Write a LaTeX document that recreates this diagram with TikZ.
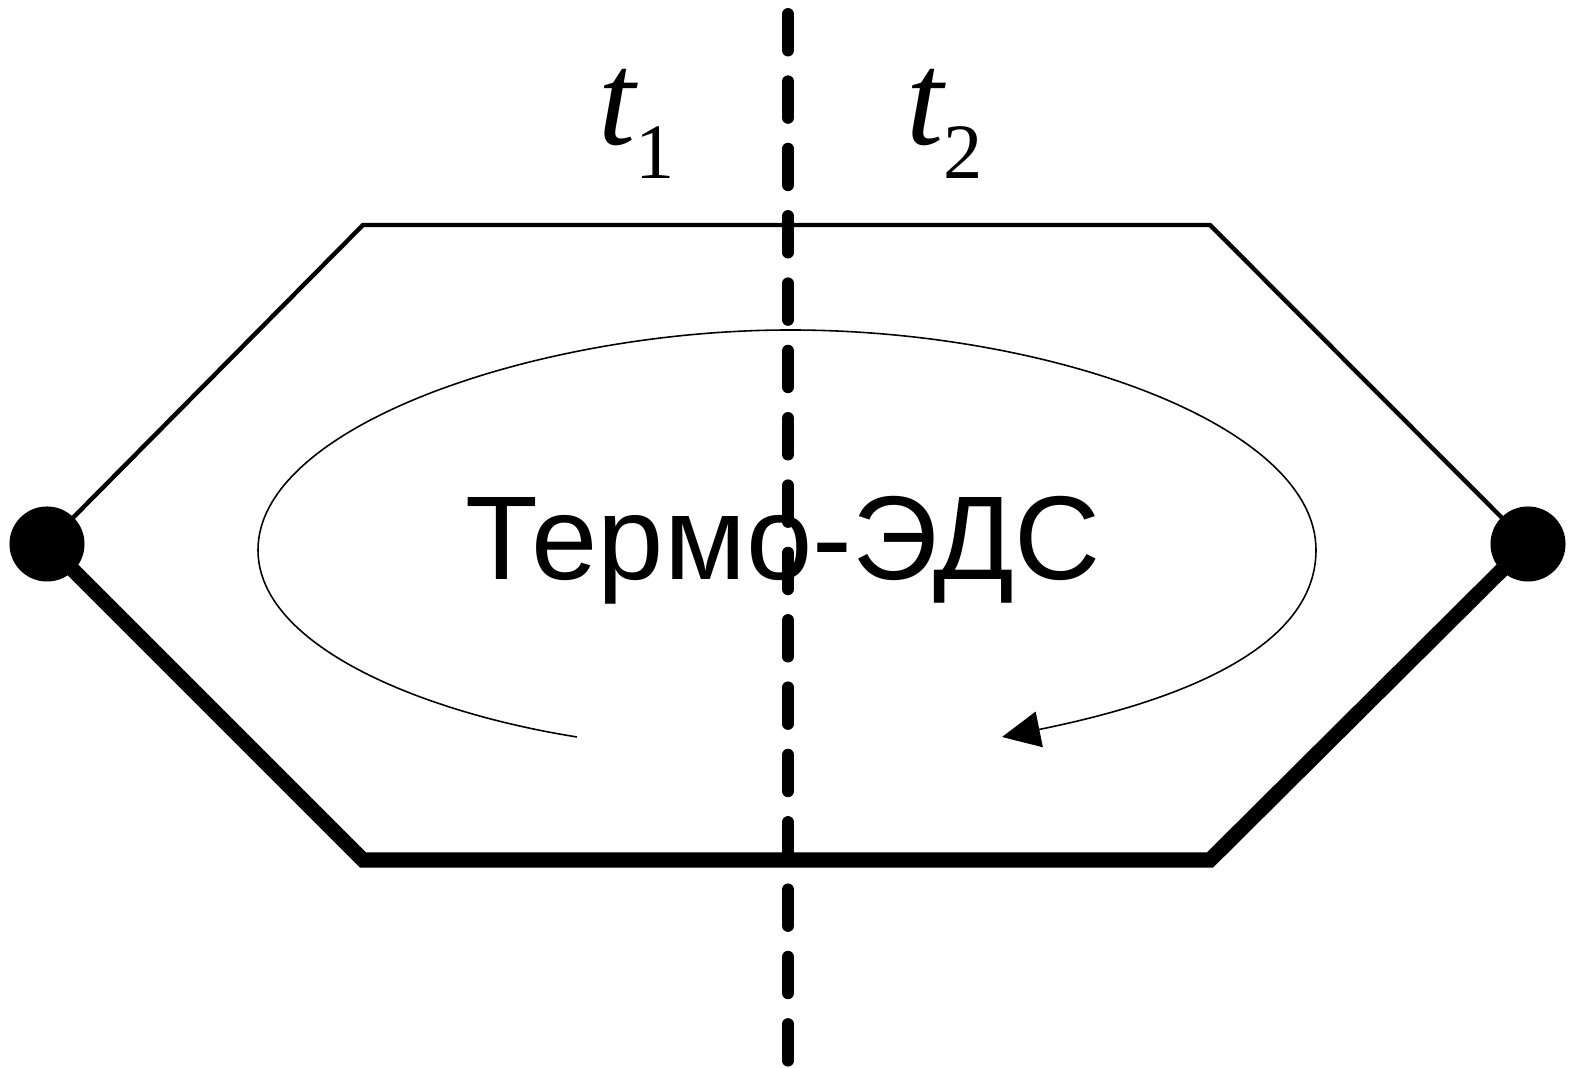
\documentclass[tikz,border=0pt]{standalone}
\usepackage{fontspec}
\setmainfont{Liberation Sans}
\newfontfamily\tserif{Liberation Serif}
\usetikzlibrary{arrows.meta}
\tikzset{
  thinwire/.style={line width=1.25pt, line join=miter},
  thickwire/.style={line width=4.3pt, line join=miter},
  junction/.style={circle, fill=black, inner sep=0pt, minimum size=0.75cm},
  boundary/.style={line width=3.4pt, line cap=round, dash pattern=on 0.365cm off 0.308cm},
  loopline/.style={line width=0.45pt, -{Triangle[length=0.38cm,width=0.36cm]}},
  templabel/.style={inner sep=0pt, anchor=base west, font=\tserif\itshape\fontsize{38}{40}\selectfont},
  emflabel/.style={inner sep=0pt, anchor=base, font=\fontsize{33.9}{36}\selectfont}
}
\begin{document}
\begin{tikzpicture}[x=0.01cm, y=-0.01cm]
\useasboundingbox (0,0) rectangle (1569,1068);
% hexagon corners
\coordinate (L) at (47,544);
\coordinate (TL) at (363,225);
\coordinate (TR) at (1210,225);
\coordinate (R) at (1528,544);
\coordinate (BR) at (1210,860);
\coordinate (BL) at (363,860);
% temperature boundary
\coordinate (btop) at (788,14);
\coordinate (bbot) at (788,1075);
% wires
\draw[thinwire] (L) -- (TL) -- (TR) -- (R);
\draw[thickwire] (L) -- (BL) -- (BR) -- (R);
\node[junction] (jl) at (L) {};
\node[junction] (jr) at (R) {};
% loop
\coordinate (ls) at (577,737);
\coordinate (lw) at (258,550);
\coordinate (ln) at (790,330);
\coordinate (le) at (1316,550);
\coordinate (lt) at (1002,737);
\draw[loopline] (ls) .. controls (420,712) and (258,645) .. (lw)
  .. controls (258,425) and (540,330) .. (ln)
  .. controls (1050,330) and (1316,425) .. (le)
  .. controls (1316,655) and (1160,705) .. (lt);
% text
\node[emflabel] (emf) at (783,580) {Термо-ЭДС};
\draw[boundary] (btop) -- (bbot);
\node[templabel] (t1) at (598,145) {t\raisebox{-0.33cm}{\fontsize{22.3}{24}\selectfont\upshape 1}};
\node[templabel] (t2) at (906,145) {t\raisebox{-0.33cm}{\fontsize{22.3}{24}\selectfont\upshape 2}};
\end{tikzpicture}
\end{document}
